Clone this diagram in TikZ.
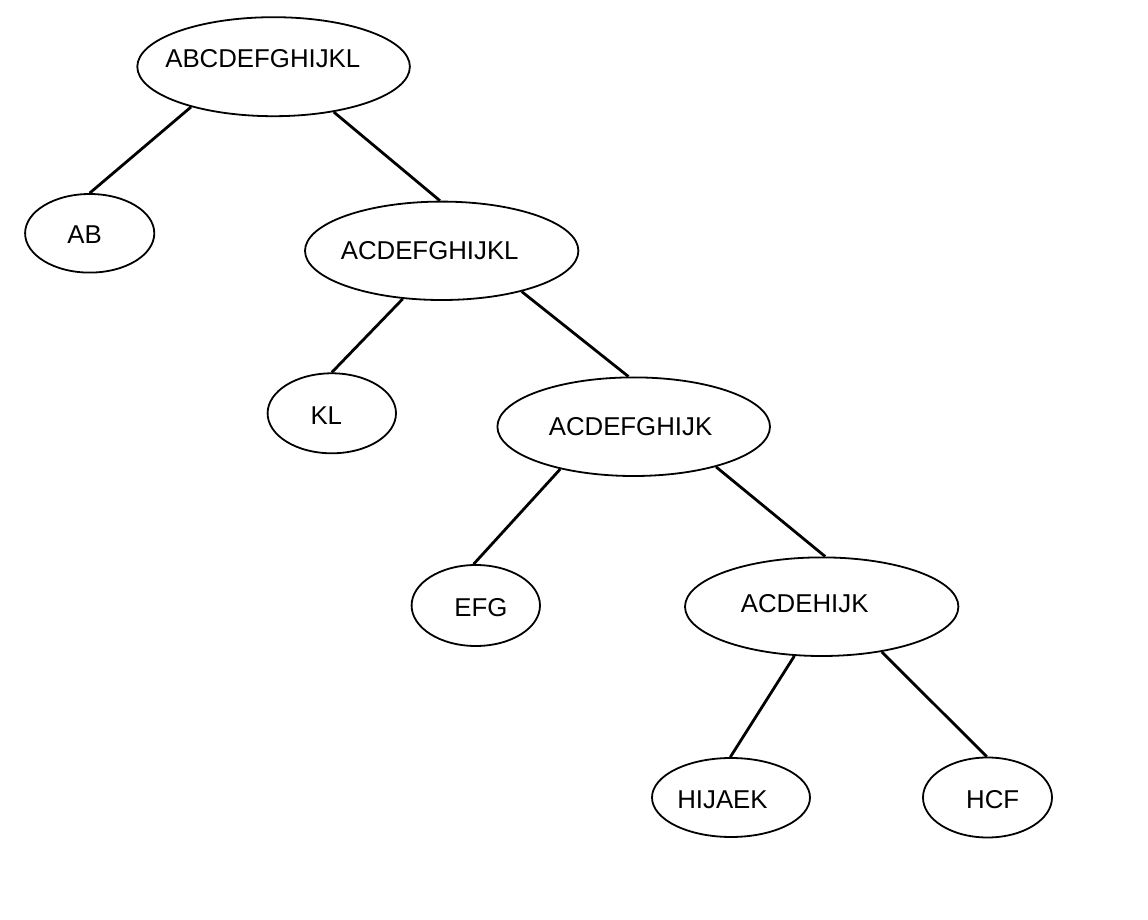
\documentclass[tikz,border=0pt]{standalone}
\usepackage{fontspec}
\setmainfont{Liberation Sans}
\usetikzlibrary{shapes.geometric}
\begin{document}
\begin{tikzpicture}[x=0.5pt,y=-0.5pt,
  oval/.style={draw,ellipse,inner sep=0pt,line width=0.9pt},
  lbl/.style={inner sep=0pt,font=\fontsize{12.9}{15}\selectfont},
  edge/.style={line width=1.4pt}]
\useasboundingbox (0,0) rectangle (1148,920);
% ellipses
\node[oval,minimum width=136.3pt,minimum height=49.5pt] (r) at (273.6,66.7) {};
\node[oval,minimum width=64.6pt,minimum height=39.3pt] (ab) at (89.7,233.3) {};
\node[oval,minimum width=136.7pt,minimum height=49.2pt] (n1) at (441.7,250.8) {};
\node[oval,minimum width=64.2pt,minimum height=40pt] (kl) at (331.8,413.3) {};
\node[oval,minimum width=136.3pt,minimum height=49.3pt] (n2) at (633.7,426.7) {};
\node[oval,minimum width=64.2pt,minimum height=40.5pt] (efg) at (475.8,605.5) {};
\node[oval,minimum width=136.7pt,minimum height=49.3pt] (n3) at (821.7,606.7) {};
\node[oval,minimum width=79pt,minimum height=39.5pt] (hij) at (731,797.5) {};
\node[oval,minimum width=64.5pt,minimum height=40pt] (hcf) at (987.5,797.5) {};
% labels
\node[lbl] (tr) at (262.8,59) {ABCDEFGHIJKL};
\node[lbl] (tab) at (84.7,234.5) {AB};
\node[lbl] (tn1) at (429.7,250.8) {ACDEFGHIJKL};
\node[lbl] (tkl) at (326.3,415.3) {KL};
\node[lbl] (tn2) at (630.5,427) {ACDEFGHIJK};
\node[lbl] (tefg) at (481,608) {EFG};
\node[lbl] (tn3) at (804.7,603.3) {ACDEHIJK};
\node[lbl] (thij) at (722.5,799.5) {HIJAEK};
\node[lbl] (thcf) at (992.7,799.5) {HCF};
% connectors
\draw[edge] (r.206.6) -- (ab.90);
\draw[edge] (r.323.9) -- (n1.92);
\draw[edge] (n1.231.5) -- (kl.90);
\draw[edge] (n1.333.8) -- (n2.96.9);
\draw[edge] (n2.210.8) -- (efg.93.5);
\draw[edge] (n2.334.1) -- (n3.86.2);
\draw[edge] (n3.241.7) -- (hij.91.4);
\draw[edge] (n3.323.6) -- (hcf.91);
\end{tikzpicture}
\end{document}
